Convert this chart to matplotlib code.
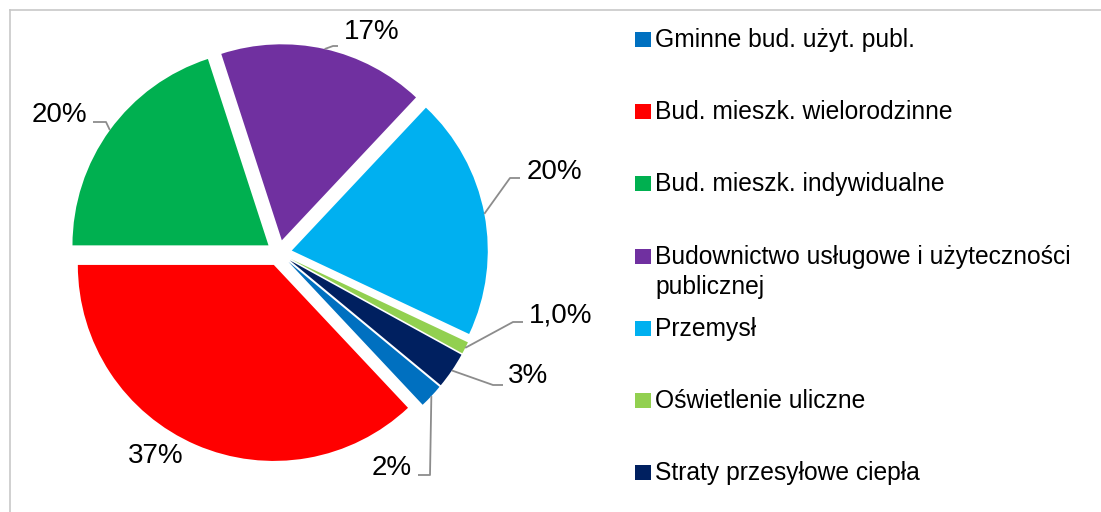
import math
import matplotlib
matplotlib.use("Agg")
import matplotlib.pyplot as plt
from matplotlib.patches import Rectangle

plt.rcParams['font.family'] = ['Liberation Sans', 'DejaVu Sans']

# data (legend order = slice order, clockwise)
categories = [
    "Gminne bud. użyt. publ.",
    "Bud. mieszk. wielorodzinne",
    "Bud. mieszk. indywidualne",
    "Budownictwo usługowe i użyteczności\npublicznej",
    "Przemysł",
    "Oświetlenie uliczne",
    "Straty przesyłowe ciepła",
]
shares = [2, 37, 20, 17, 20, 1, 3]
value_labels = ["2%", "37%", "20%", "17%", "20%", "1,0%", "3%"]
colors = ["#0070C0", "#FF0000", "#00B050", "#7030A0", "#00B0F0", "#92D050", "#002060"]

W, H = 1101, 512


def px(x, y):
    # reference pixel coords (y down) -> axes coords (y up)
    return x, H - y


fig = plt.figure(figsize=(W / 100, H / 100), dpi=100)
ax = fig.add_axes([0, 0, 1, 1])

radius = 196
gap = 13
cx, cy = px(279, 253)
wedges, _ = ax.pie(shares, colors=colors, startangle=-39.6, counterclock=False,
                   radius=radius, center=(cx, cy), explode=[gap] * len(shares),
                   wedgeprops=dict(linewidth=0), frame=False)
ax.set_xlim(0, W)
ax.set_ylim(0, H)
ax.set_aspect('equal')
ax.axis('off')

# frame of the chart area
ax.plot([10, 10], [0, H - 10], color="#C8C8C8", lw=1.2)
ax.plot([10, W], [H - 10, H - 10], color="#C8C8C8", lw=1.2)

# value labels: text position (baseline) and leader elbow/end
label_pos = [(392, 475), (156, 463), (59, 122), (372, 39), (554, 179), (561, 322), (528, 383)]
leaders = [
    [(430, 475), (418, 475)],
    None,
    [(106, 122), (93, 122)],
    [(333, 46), (338, 46)],
    [(510, 178), (520, 178)],
    [(513, 322), (523, 322)],
    [(493, 385), (503, 385)],
]

for w, lab, pos, lead in zip(wedges, value_labels, label_pos, leaders):
    tx, ty = px(*pos)
    ax.text(tx, ty, lab, ha='center', va='baseline', fontsize=20, color='black')
    if lead is None:
        continue
    mid = math.radians((w.theta1 + w.theta2) / 2)
    ax_x = w.center[0] + w.r * math.cos(mid)
    ax_y = w.center[1] + w.r * math.sin(mid)
    xs = [ax_x] + [p[0] for p in lead]
    ys = [ax_y] + [H - p[1] for p in lead]
    ax.plot(xs, ys, color="#8C8C8C", lw=1.3, solid_capstyle='butt')

# legend drawn by hand, square aligned with the first text line
for i, (name, col) in enumerate(zip(categories, colors)):
    base = 47 + 72.2 * i
    ax.add_patch(Rectangle(px(635, base), 16, 15, facecolor=col, edgecolor='none'))
    for j, line in enumerate(name.split("\n")):
        ax.text(655, H - base - 30 * j, line, ha='left', va='baseline',
                fontsize=17.7, color='black')

fig.savefig("out.png", dpi=100)
